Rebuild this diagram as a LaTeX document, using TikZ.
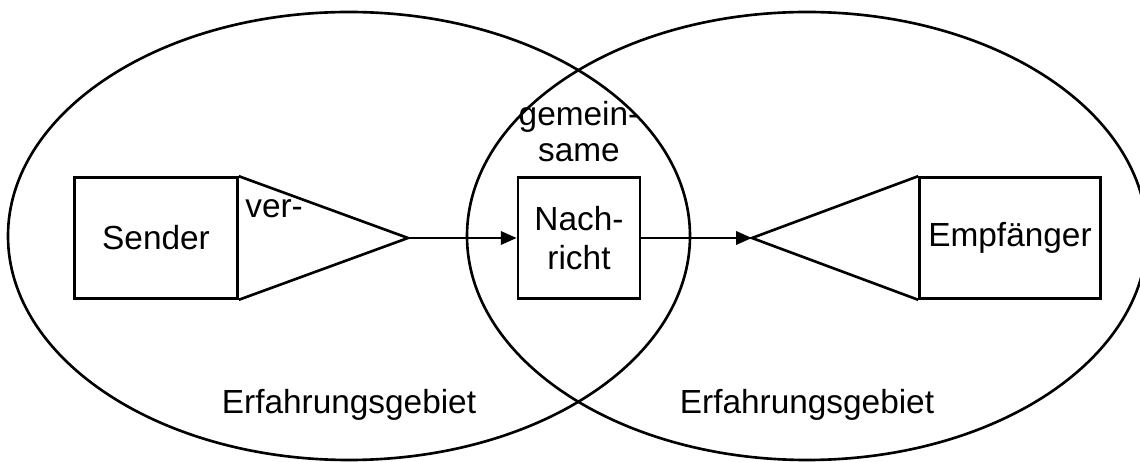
\documentclass[tikz,border=0pt]{standalone}
\usepackage{fontspec}
\setmainfont{Liberation Sans}
\usetikzlibrary{arrows.meta, positioning}
\tikzset{
  field/.style={
    draw,
    line width=1.5pt
  },
  box/.style={
    draw,
    rectangle,
    line width=1.5pt,
    inner sep=0pt,
    align=center,
    minimum height=2.42cm,
    font=\fontsize{19}{22}\selectfont
  },
  funnel/.style={
    draw,
    line width=1.5pt,
    line join=miter
  },
  signal/.style={
    -{Triangle[length=9pt, width=7.5pt]},
    line width=1.5pt
  },
  label text/.style={
    font=\fontsize{19}{21}\selectfont,
    align=center,
    inner sep=0pt
  }
}

\begin{document}
\begin{tikzpicture}[x=0.02cm, y=-0.02cm]
    \useasboundingbox (0,0) rectangle (1140,462);

    % Erfahrungsgebiete
    \draw[field] (349,236) ellipse [x radius=341, y radius=224];
    \draw[field] (807,236) ellipse [x radius=340, y radius=224];
    \node[label text, anchor=base] (gebietS) at (349,414) {Erfahrungsgebiet};
    \node[label text, anchor=base] (gebietE) at (807,414) {Erfahrungsgebiet};

    % Sender mit Verschluesselung
    \node[box, minimum width=3.26cm] (sender) at (156,238) {Sender};
    \coordinate (enc) at (408,238);
    \draw[funnel] (sender.north east) -- (enc) -- (sender.south east);
    \node[label text, anchor=base west] (ver) at (245,218) {ver-};

    % Nachricht
    \node[box, minimum width=2.44cm] (msg) at (579,238) {Nach-\\richt};
    \node[label text, anchor=base] (common) at (579,162) {gemein-\\same};

    % Empfaenger mit Entschluesselung
    \node[box, minimum width=3.62cm] (recv) at (1010,238) {Empfänger};
    \coordinate (dec) at (752,238);
    \draw[funnel] (recv.north west) -- (dec) -- (recv.south west);

    % Signalweg
    \draw[signal] (enc) -- (msg.west);
    \draw[signal] (msg.east) -- (dec);

  \end{tikzpicture}
\end{document}
